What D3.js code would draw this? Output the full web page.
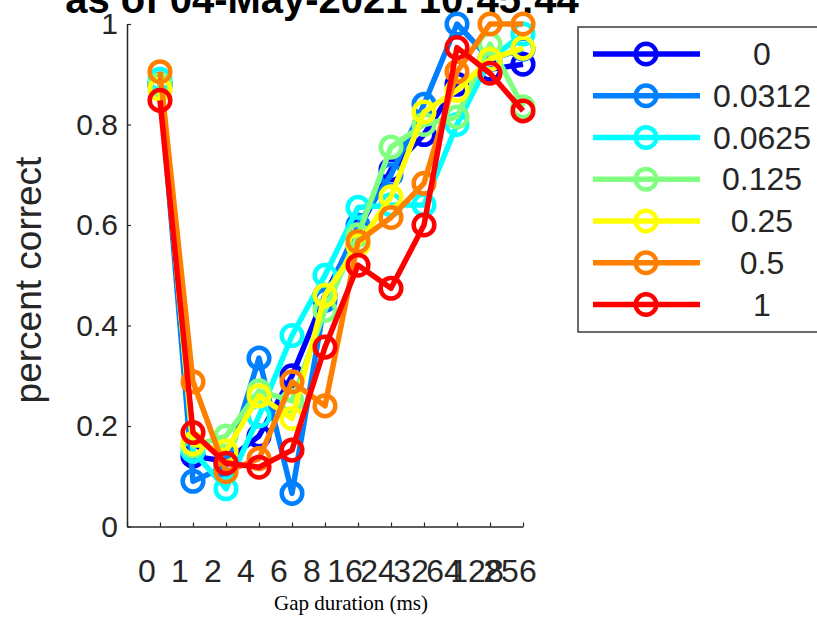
<!DOCTYPE html>
<html>
<head>
<meta charset="utf-8">
<script src="https://cdn.jsdelivr.net/npm/d3@7"></script>
<style>
  html, body { margin: 0; padding: 0; background: #fff; }
  svg { display: block; }
</style>
</head>
<body>
<svg id="chart" width="817" height="618"></svg>
<script>
// Gap durations (ms) shown on the x axis, one category per column
const gapLabels = ["0", "1", "2", "4", "6", "8", "16", "24", "32", "64", "128", "256"];

// Series names (legend entries)
const seriesNames = ["0", "0.0312", "0.0625", "0.125", "0.25", "0.5", "1"];

// Percent correct per gap duration, one array per series
const s0000 = [0.88, 0.14, 0.13, 0.18, 0.30, 0.46, 0.59, 0.71, 0.78, 0.88, 0.91, 0.92];
const s0312 = [0.88, 0.09, 0.12, 0.335, 0.066, 0.45, 0.60, 0.70, 0.84, 1.00, 0.93, 0.95];
const s0625 = [0.89, 0.15, 0.075, 0.22, 0.38, 0.50, 0.635, 0.64, 0.64, 0.80, 0.93, 0.98];
const s1250 = [0.88, 0.16, 0.18, 0.27, 0.25, 0.43, 0.58, 0.755, 0.80, 0.815, 0.96, 0.835];
const s2500 = [0.87, 0.165, 0.15, 0.26, 0.215, 0.46, 0.56, 0.656, 0.825, 0.868, 0.93, 0.952];
const s5000 = [0.905, 0.288, 0.109, 0.135, 0.288, 0.24, 0.567, 0.615, 0.683, 0.905, 1.00, 1.00];
const s1000 = [0.848, 0.187, 0.126, 0.118, 0.152, 0.357, 0.52, 0.474, 0.60, 0.953, 0.902, 0.827];

const seriesValues = [s0000, s0312, s0625, s1250, s2500, s5000, s1000];

// Jet-style colours, one per series
const seriesColors = ["#0000ff", "#0080ff", "#00ffff", "#80ff80", "#ffff00", "#ff8000", "#ff0000"];

const yTicks = [0, 0.2, 0.4, 0.6, 0.8, 1];

const svg = d3.select("#chart");
const axisColor = "#262626";
const tickFont = "'Liberation Sans', Arial, Helvetica, sans-serif";

// Scales: categories sit at 1..12 on a 0..12 axis
const x = d3.scaleLinear().domain([0, gapLabels.length]).range([127, 523]);
const y = d3.scaleLinear().domain([0, 1]).range([526.5, 24]);

// Title (partly above the top edge)
svg.append("text")
  .attr("x", 322).attr("y", 13)
  .attr("text-anchor", "middle")
  .attr("font-family", tickFont)
  .attr("font-weight", "bold")
  .attr("font-size", 40)
  .attr("fill", "#000")
  .text("as of 04-May-2021 10:45:44");

// X axis: inward ticks, labels drawn separately
const xAxis = svg.append("g")
  .attr("transform", `translate(0,${y(0)})`)
  .call(d3.axisBottom(x).tickValues(d3.range(0, gapLabels.length + 1)).tickSize(-4).tickSizeOuter(0).tickFormat(""));
xAxis.select(".domain").attr("stroke", axisColor).attr("stroke-width", 1.5);
xAxis.selectAll(".tick line").attr("stroke", axisColor).attr("stroke-width", 1.2);

svg.append("g").selectAll("text")
  .data(gapLabels)
  .join("text")
  .attr("x", (d, i) => x(i + 1) - 13)
  .attr("y", y(0) + 55)
  .attr("text-anchor", "middle")
  .attr("font-family", tickFont)
  .attr("font-size", 32)
  .attr("fill", axisColor)
  .text(d => d);

// Y axis
const yAxis = svg.append("g")
  .attr("transform", `translate(${x(0)},0)`)
  .call(d3.axisLeft(y).tickValues(yTicks).tickSize(-4).tickSizeOuter(0).tickPadding(9).tickFormat(d3.format("~g")));
yAxis.select(".domain").attr("stroke", axisColor).attr("stroke-width", 1.5);
yAxis.selectAll(".tick line").attr("stroke", axisColor).attr("stroke-width", 1.2);
yAxis.selectAll(".tick text")
  .attr("font-family", tickFont)
  .attr("font-size", 30)
  .attr("fill", axisColor);

// Axis titles
svg.append("text")
  .attr("transform", `translate(41,280) rotate(-90)`)
  .attr("text-anchor", "middle")
  .attr("font-family", tickFont)
  .attr("font-size", 37)
  .attr("fill", axisColor)
  .text("percent correct");

svg.append("text")
  .attr("x", 351).attr("y", 610)
  .attr("text-anchor", "middle")
  .attr("font-family", "'Liberation Serif', 'DejaVu Serif', serif")
  .attr("font-size", 21)
  .attr("fill", "#000")
  .text("Gap duration (ms)");

// Series: line then hollow circle markers
const line = d3.line().x((d, i) => x(i + 1)).y(d => y(d));
const plot = svg.append("g");
seriesValues.forEach((vals, k) => {
  const g = plot.append("g");
  g.append("path")
    .attr("d", line(vals))
    .attr("fill", "none")
    .attr("stroke", seriesColors[k])
    .attr("stroke-width", 5.5)
    .attr("stroke-linejoin", "round");
  g.selectAll("circle")
    .data(vals)
    .join("circle")
    .attr("cx", (d, i) => x(i + 1))
    .attr("cy", d => y(d))
    .attr("r", 10.3)
    .attr("fill", "none")
    .attr("stroke", seriesColors[k])
    .attr("stroke-width", 4.5);
});

// Legend
const legend = svg.append("g");
legend.append("rect")
  .attr("x", 578).attr("y", 27)
  .attr("width", 260).attr("height", 305)
  .attr("fill", "#fff")
  .attr("stroke", "#3a3a3a")
  .attr("stroke-width", 1.5);

const rowY = d3.scalePoint().domain(seriesNames).range([54, 304.5]);
seriesNames.forEach((name, k) => {
  const yy = rowY(name);
  legend.append("line")
    .attr("x1", 593).attr("x2", 700)
    .attr("y1", yy).attr("y2", yy)
    .attr("stroke", seriesColors[k])
    .attr("stroke-width", 5.5);
  legend.append("circle")
    .attr("cx", 646).attr("cy", yy)
    .attr("r", 10.3)
    .attr("fill", "none")
    .attr("stroke", seriesColors[k])
    .attr("stroke-width", 4.5);
  legend.append("text")
    .attr("x", 762).attr("y", yy)
    .attr("dy", "0.35em")
    .attr("text-anchor", "middle")
    .attr("font-family", tickFont)
    .attr("font-size", 32)
    .attr("fill", axisColor)
    .text(name);
});
</script>
</body>
</html>
